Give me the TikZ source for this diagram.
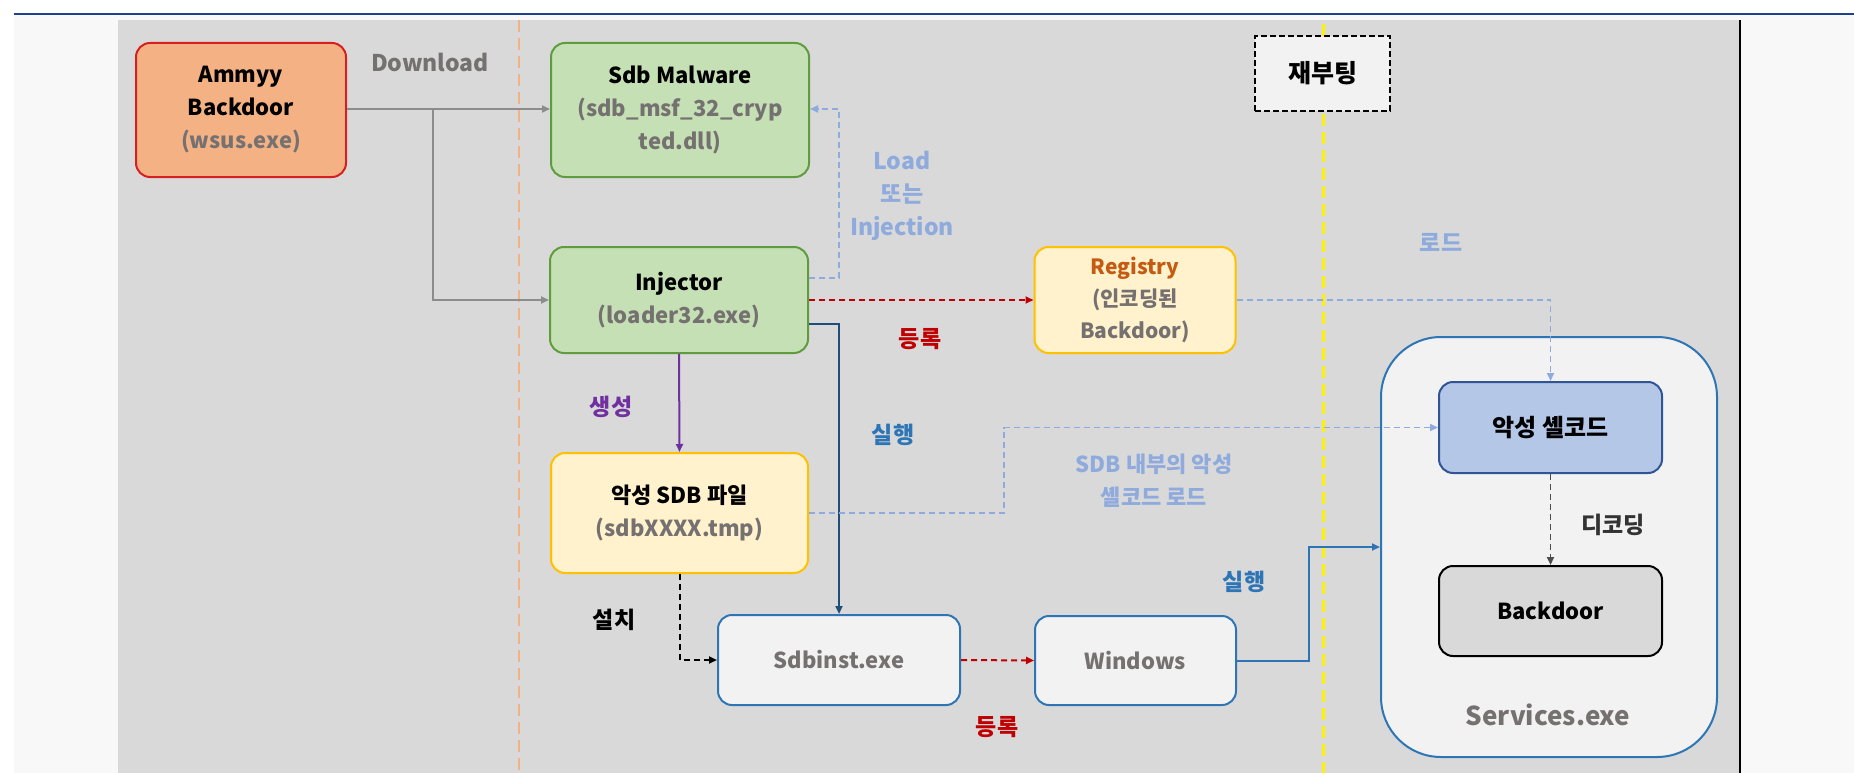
\documentclass[tikz,border=0pt]{standalone}
\usepackage{fontspec}
\setmainfont{Noto Sans CJK KR}
\usetikzlibrary{arrows.meta,calc}
\definecolor{panel}{HTML}{D9D9D9}
\definecolor{pagebg}{HTML}{F8F8F8}
\definecolor{topline}{HTML}{1F3F8F}
\definecolor{txtgray}{HTML}{767171}
\definecolor{orfill}{HTML}{F4B183}
\definecolor{redline}{HTML}{D62020}
\definecolor{grfill}{HTML}{C5E0B4}
\definecolor{grline}{HTML}{5E9C3F}
\definecolor{yfill}{HTML}{FFF2CC}
\definecolor{yline}{HTML}{FFC000}
\definecolor{bline}{HTML}{2E75B6}
\definecolor{scfill}{HTML}{B4C7E7}
\definecolor{scline}{HTML}{2F5597}
\definecolor{lblue}{HTML}{8FAADC}
\definecolor{darkred}{HTML}{C00000}
\definecolor{navy}{HTML}{1F4E79}
\definecolor{purp}{HTML}{7030A0}
\definecolor{regtxt}{HTML}{C55A11}
\definecolor{lightbox}{HTML}{F2F2F2}
\definecolor{arrgray}{HTML}{8C8C8C}
\tikzset{
  box/.style={rounded corners=14pt, line width=2pt, align=center, inner sep=0pt},
  tip/.style={-{Triangle[length=8pt,width=7pt]}},
  conn/.style={line width=2pt, tip},
  dconn/.style={line width=2pt, tip, dash pattern=on 6pt off 4pt},
  lbl/.style={font=\bfseries\fontsize{23}{31}\selectfont, align=center},
}
\begin{document}
\begin{tikzpicture}[x=1pt,y=-1pt,font=\bfseries\fontsize{22}{33}\selectfont]
\useasboundingbox (0,0) rectangle (1854,773);
\fill[white] (0,0) rectangle (1854,773);
\fill[pagebg] (14,15) rectangle (1854,773);
\draw[topline, line width=2.5pt] (14,14) -- (1854,14);
\fill[panel] (118,20) rectangle (1740,773);
\draw[black, line width=1.5pt] (1740,20) -- (1740,773);

% separators
\draw[orfill, line width=2.5pt, dash pattern=on 12pt off 6pt] (519,20) -- (519,773);
\draw[yellow, line width=3pt, dash pattern=on 12pt off 6pt] (1323,24) -- (1323,773);

% nodes
\node[box, draw=redline, fill=orfill, minimum width=210pt, minimum height=134pt] (ammyy) at (241,110)
  {Ammyy\\Backdoor\\{\color{txtgray}(wsus.exe)}};
\node[box, draw=grline, fill=grfill, minimum width=258pt, minimum height=134pt] (sdbm) at (680,110)
  {Sdb Malware\\{\color{txtgray}(sdb\_msf\_32\_cryp}\\{\color{txtgray}ted.dll)}};
\node[box, draw=grline, fill=grfill, minimum width=258pt, minimum height=106pt] (inj) at (679,300)
  {Injector\\{\color{txtgray}(loader32.exe)}};
\node[box, draw=yline, fill=yfill, minimum width=201pt, minimum height=106pt, font=\bfseries\fontsize{21}{32}\selectfont] (reg) at (1135,300)
  {{\color{regtxt}Registry}\\{\color{txtgray}(인코딩된}\\{\color{txtgray}Backdoor)}};
\node[box, rounded corners=0pt, draw=black, dash pattern=on 6pt off 3pt, line width=2.5pt, fill=lightbox, minimum width=135pt, minimum height=75pt, font=\bfseries\fontsize{25}{30}\selectfont] (reboot) at (1322.5,73.5) {재부팅};
\node[box, draw=yline, fill=yfill, minimum width=257pt, minimum height=120pt] (sdbf) at (679.5,513)
  {악성 SDB 파일\\{\color{txtgray}(sdbXXXX.tmp)}};
\node[box, draw=bline, fill=lightbox, minimum width=242pt, minimum height=90pt, text=txtgray] (inst) at (839,660) {Sdbinst.exe};
\node[box, draw=bline, fill=lightbox, minimum width=201pt, minimum height=89pt, text=txtgray] (win) at (1135.5,660.5) {Windows};
\node[box, rounded corners=60pt, draw=bline, fill=lightbox, minimum width=336pt, minimum height=420pt] (svc) at (1549,547) {};
\node[text=txtgray, font=\bfseries\fontsize{26}{30}\selectfont] (svclbl) at (1548,715) {Services.exe};
\node[box, draw=scline, fill=scfill, minimum width=223pt, minimum height=91pt, font=\bfseries\fontsize{24}{30}\selectfont] (shell) at (1550.5,427.5) {악성 셸코드};
\node[box, draw=black, fill=panel, minimum width=223pt, minimum height=90pt] (bd) at (1550.5,611) {Backdoor};

% labels
\node[lbl, text=txtgray] (ldown) at (430,62) {Download};
\node[lbl, text=lblue, font=\bfseries\fontsize{23}{33}\selectfont] (lload) at (902,196) {Load\\또는\\Injection};
\node[lbl, text=darkred] (lreg1) at (920,339) {등록};
\node[lbl, text=lblue] (lroad) at (1441,242) {로드};
\node[lbl, text=purp] (lgen) at (611,407) {생성};
\node[lbl, text=bline] (lexe1) at (893,435) {실행};
\node[lbl, text=lblue, font=\bfseries\fontsize{22}{33}\selectfont] (lsdb) at (1154,481) {SDB 내부의 악성\\셸코드 로드};
\node[lbl, text=black] (linst) at (614,620) {설치};
\node[lbl, text=black!80] (ldec) at (1613,525) {디코딩};
\node[lbl, text=bline] (lexe2) at (1244,582) {실행};
\node[lbl, text=darkred] (lreg2) at (997,727) {등록};

% connectors
\coordinate (j1) at (433,109);
\draw[arrgray, line width=2pt] (ammyy.east |- j1) -- (j1);
\draw[conn, arrgray] (j1) -- (sdbm.west |- j1);
\draw[conn, arrgray] (j1) |- (inj.west);

\coordinate (c1) at (839,278);
\draw[dconn, lblue, line width=1.8pt] (inj.east |- c1) -| (839,109) -- (sdbm.east |- 0,109);
\draw[dconn, darkred] (inj.east) -- (reg.west);
\draw[conn, navy] ($(inj.east)+(0,24)$) -| (inst.north);
\draw[conn, purp] (inj.south) -- (sdbf.north);
\draw[dconn, black] (sdbf.south) |- (inst.west);
\coordinate (c2) at (1004,513);
\draw[dconn, lblue, line width=1.8pt] (sdbf.east |- c2) -- (c2) |- (shell.west);
\draw[dconn, lblue, line width=1.8pt] (reg.east) -| (shell.north);
\draw[dconn, darkred] (inst.east) -- (win.west);
\coordinate (c3) at (1309,547);
\draw[conn, bline] (win.east) -| (c3) -- (svc.west);
\draw[dconn, black!70, line width=1.8pt] (shell.south) -- (bd.north);
\end{tikzpicture}
\end{document}
